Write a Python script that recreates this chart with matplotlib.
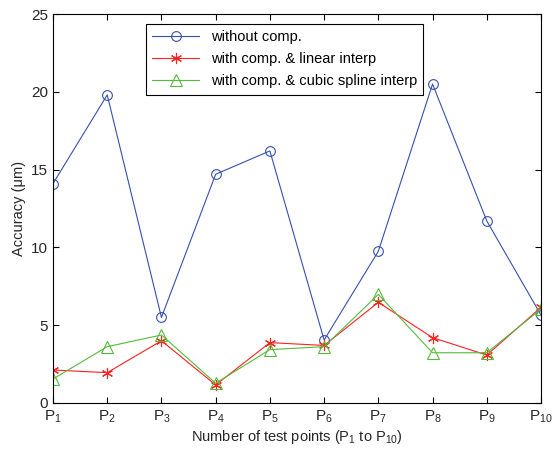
import numpy as np
import matplotlib.pyplot as plt

plt.rcParams["font.family"] = ["Liberation Sans", "DejaVu Sans"]
plt.rcParams["mathtext.default"] = "regular"

points = ["P$_{%d}$" % i for i in range(1, 11)]
without_comp = [14.1, 19.8, 5.5, 14.7, 16.2, 4.05, 9.75, 20.5, 11.7, 5.65]
linear_interp = [2.12, 1.95, 4.0, 1.16, 3.88, 3.7, 6.47, 4.2, 3.08, 6.15]
cubic_interp = [1.54, 3.62, 4.37, 1.27, 3.43, 3.62, 6.98, 3.23, 3.23, 6.04]

fig = plt.figure(figsize=(5.55, 4.49), dpi=100)
ax = fig.add_axes([53 / 555, 1 - 403 / 449, 488 / 555, 389 / 449])

x = np.arange(1, 11)
ax.plot(x, without_comp, color="#3550b0", lw=0.8, marker="o", ms=7,
        mfc="none", mew=0.8, label="without comp.")
ax.plot(x, linear_interp, color="#ff2020", lw=0.8, marker=(6, 2, 0), ms=8,
        mfc="none", mew=0.8, label="with comp. & linear interp")
ax.plot(x, cubic_interp, color="#55bb3a", lw=0.8, marker="^", ms=8,
        mfc="none", mew=0.8, label="with comp. & cubic spline interp")

ax.set_xlim(1, 10)
ax.set_ylim(0, 25)
ax.set_xticks(x)
ax.set_xticklabels(points, fontsize=10, color="#262626")
ax.set_yticks(np.arange(0, 26, 5))
ax.tick_params(direction="in", top=True, right=True, labelsize=11, length=4,
               labelcolor="#262626")
ax.tick_params(axis="x", pad=4)
ax.set_xlabel("Number of test points (P$_1$ to P$_{10}$)", fontsize=10.5,
              labelpad=2, color="#262626")
ax.set_ylabel("Accuracy (\u03bcm)", fontsize=10.5, color="#262626")
for s in ax.spines.values():
    s.set_linewidth(0.8)

leg = ax.legend(loc="upper left", bbox_to_anchor=(0.19, 0.975), fontsize=10.5,
                fancybox=False, edgecolor="black", framealpha=1,
                handlelength=3.2, borderaxespad=0, labelspacing=0.55,
                borderpad=0.45)
leg.get_frame().set_linewidth(0.8)

fig.savefig("out.png", dpi=100)
